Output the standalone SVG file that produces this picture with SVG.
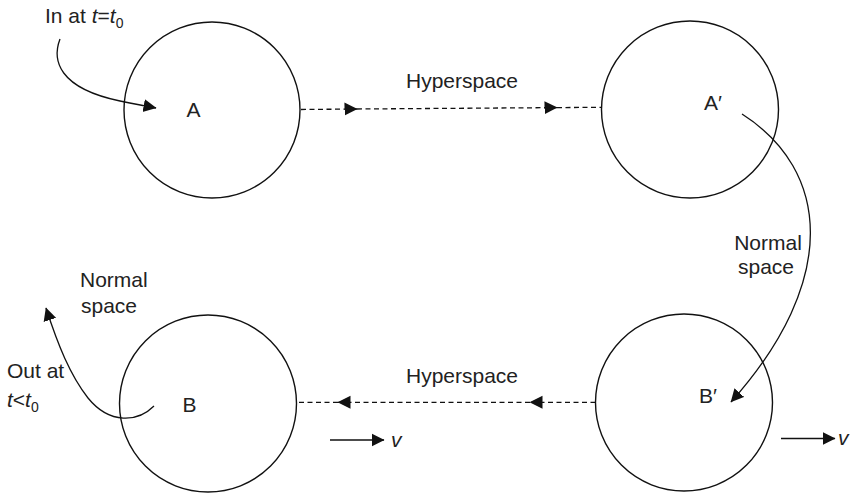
<svg xmlns="http://www.w3.org/2000/svg" width="857" height="494" viewBox="0 0 857 494">
<style>
.c{fill:none;stroke:#111;stroke-width:1.4}
.l{fill:none;stroke:#111;stroke-width:1.3}
.d{fill:none;stroke:#111;stroke-width:1.3;stroke-dasharray:5 3.5}
text{font-family:"Liberation Sans",Arial,sans-serif;font-size:21px;fill:#222}
.i{font-style:italic}
.s{font-size:14px}
</style>
<defs>
<marker id="ah" markerUnits="userSpaceOnUse" markerWidth="14" markerHeight="14" refX="12.5" refY="7" orient="auto" viewBox="0 0 14 14">
<path d="M0,0.5 L13,7 L0,13.5 Z" fill="#111"/>
</marker>
</defs>
<rect width="857" height="494" fill="#fff"/>
<g id="nodeA"><circle class="c" cx="212" cy="110" r="88"/><text x="193.5" y="117" text-anchor="middle">A</text></g>
<g id="nodeA2"><circle class="c" cx="690" cy="109.5" r="88.5"/><text x="713" y="110" text-anchor="middle">A′</text></g>
<g id="nodeB2"><circle class="c" cx="684" cy="402.5" r="88.5"/><text x="708" y="403" text-anchor="middle">B′</text></g>
<g id="nodeB"><circle class="c" cx="208" cy="403.5" r="88.5"/><text x="189.5" y="412" text-anchor="middle">B</text></g>
<g id="connectors">
<path class="d" d="M301,109.5 L357,109" marker-end="url(#ah)"/>
<path class="d" d="M357,109 L557,107.6" marker-end="url(#ah)"/>
<path class="d" d="M557,107.6 L601.5,107.3"/>
<path class="d" d="M595.5,402.3 L530,402.3" marker-end="url(#ah)"/>
<path class="d" d="M530,402.3 L338,402.3" marker-end="url(#ah)"/>
<path class="d" d="M338,402.3 L296.5,402.3"/>
<path class="l" d="M60,39 C52,60 58,88 120,101 Q140,105 156,108" marker-end="url(#ah)"/>
<path class="l" d="M742,114 C830,170 840,280 731,402" marker-end="url(#ah)"/>
<path class="l" d="M154,406 C138,422 110,425 88,398 C70,375 58,345 46,308" marker-end="url(#ah)"/>
<path class="l" d="M330,440 L384,440" marker-end="url(#ah)"/>
<path class="l" d="M781,438.5 L835,438.5" marker-end="url(#ah)"/>
</g>
<g id="labels">
<text x="45" y="23">In at <tspan class="i">t</tspan>=<tspan class="i">t</tspan><tspan class="s" dy="5">0</tspan></text>
<text x="462" y="88" text-anchor="middle">Hyperspace</text>
<text x="462" y="383" text-anchor="middle">Hyperspace</text>
<text x="768" y="250" text-anchor="middle">Normal</text>
<text x="766" y="274" text-anchor="middle">space</text>
<text x="80" y="287">Normal</text>
<text x="81" y="313">space</text>
<text x="7" y="378">Out at</text>
<text x="7" y="407"><tspan class="i">t</tspan>&lt;<tspan class="i">t</tspan><tspan class="s" dy="5">0</tspan></text>
<text class="i" x="391" y="447">v</text>
<text class="i" x="838" y="445">v</text>
</g>
</svg>
